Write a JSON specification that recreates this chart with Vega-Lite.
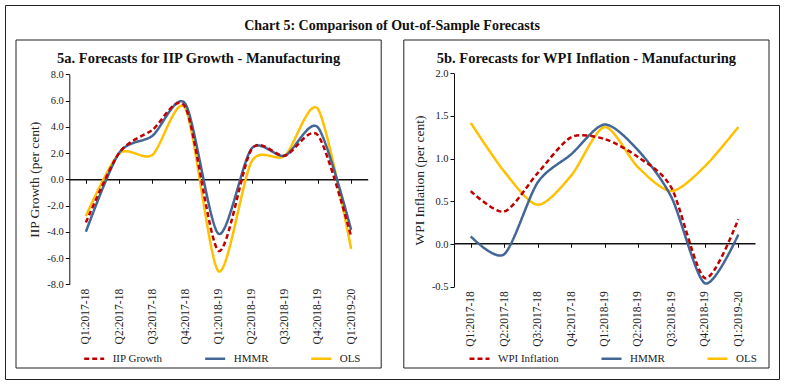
{
  "$schema": "https://vega.github.io/schema/vega-lite/v6.json",
  "width": 774,
  "height": 374,
  "autosize": {"type": "none"},
  "padding": {"left": 5, "top": 5, "right": 7, "bottom": 6},
  "background": "white",
  "title": {
    "text": "Chart 5: Comparison of Out-of-Sample Forecasts",
    "font": "Liberation Serif",
    "fontSize": 14,
    "fontWeight": "bold",
    "color": "#111111",
    "anchor": "middle",
    "baseline": "alphabetic",
    "offset": -39
  },
  "config": {
    "view": {"stroke": "#222222", "strokeWidth": 1},
    "font": "Liberation Serif",
    "axis": {
      "labelFont": "Liberation Serif",
      "titleFont": "Liberation Serif",
      "labelColor": "#222222",
      "titleColor": "#222222",
      "domainColor": "#111111",
      "tickColor": "#111111",
      "grid": false,
      "labelOverlap": false,
      "labelFlush": false
    },
    "legend": {"labelFont": "Liberation Serif", "labelColor": "#222222"}
  },
  "resolve": {
    "scale": {"x": "independent", "y": "independent", "color": "independent", "strokeDash": "independent"},
    "axis": {"x": "independent", "y": "independent"},
    "legend": {"color": "independent", "strokeDash": "independent"}
  },
  "layer": [
    {
      "data": {"values": [
        {"panel": "5a", "title": "5a. Forecasts for IIP Growth - Manufacturing"},
        {"panel": "5b", "title": "5b. Forecasts for WPI Inflation - Manufacturing"}
      ]},
      "encoding": {
        "x": {"field": "panel", "type": "nominal", "axis": null,
              "scale": {"range": [11, 764], "paddingInner": 0.0583, "paddingOuter": 0}}
      },
      "layer": [
        {
          "mark": {"type": "rect", "fill": "transparent", "stroke": "#222222", "strokeWidth": 1},
          "encoding": {
            "y": {"datum": "frame", "type": "nominal", "axis": null,
                  "scale": {"range": [35, 363], "paddingInner": 0, "paddingOuter": 0}}
          }
        },
        {
          "mark": {"type": "text", "baseline": "alphabetic", "dy": 23, "fontSize": 14.5, "fontWeight": "bold", "font": "Liberation Serif", "color": "#111111"},
          "encoding": {
            "text": {"field": "title"},
            "y": {"datum": "frame", "type": "nominal", "bandPosition": 0, "axis": null}
          }
        }
      ]
    },
    {
      "data": {"values": [
        {"quarter": "Q1:2017-18", "series": "OLS", "value": -2.8},
        {"quarter": "Q2:2017-18", "series": "OLS", "value": 1.95},
        {"quarter": "Q3:2017-18", "series": "OLS", "value": 1.85},
        {"quarter": "Q4:2017-18", "series": "OLS", "value": 5.4},
        {"quarter": "Q1:2018-19", "series": "OLS", "value": -7.0},
        {"quarter": "Q2:2018-19", "series": "OLS", "value": 1.35},
        {"quarter": "Q3:2018-19", "series": "OLS", "value": 1.8},
        {"quarter": "Q4:2018-19", "series": "OLS", "value": 5.35},
        {"quarter": "Q1:2019-20", "series": "OLS", "value": -5.3},
        {"quarter": "Q1:2017-18", "series": "HMMR", "value": -4.0},
        {"quarter": "Q2:2017-18", "series": "HMMR", "value": 2.0},
        {"quarter": "Q3:2017-18", "series": "HMMR", "value": 3.3},
        {"quarter": "Q4:2017-18", "series": "HMMR", "value": 5.75},
        {"quarter": "Q1:2018-19", "series": "HMMR", "value": -4.15},
        {"quarter": "Q2:2018-19", "series": "HMMR", "value": 2.35},
        {"quarter": "Q3:2018-19", "series": "HMMR", "value": 1.8},
        {"quarter": "Q4:2018-19", "series": "HMMR", "value": 3.95},
        {"quarter": "Q1:2019-20", "series": "HMMR", "value": -3.85},
        {"quarter": "Q1:2017-18", "series": "IIP Growth", "value": -3.3},
        {"quarter": "Q2:2017-18", "series": "IIP Growth", "value": 2.0},
        {"quarter": "Q3:2017-18", "series": "IIP Growth", "value": 3.75},
        {"quarter": "Q4:2017-18", "series": "IIP Growth", "value": 5.5},
        {"quarter": "Q1:2018-19", "series": "IIP Growth", "value": -5.45},
        {"quarter": "Q2:2018-19", "series": "IIP Growth", "value": 2.3},
        {"quarter": "Q3:2018-19", "series": "IIP Growth", "value": 1.8},
        {"quarter": "Q4:2018-19", "series": "IIP Growth", "value": 3.35},
        {"quarter": "Q1:2019-20", "series": "IIP Growth", "value": -4.35}
      ]},
      "mark": {"type": "line", "interpolate": "cardinal", "tension": 0.2, "strokeWidth": 2.5},
      "encoding": {
        "x": {"field": "quarter", "type": "ordinal",
              "scale": {"domain": ["Q1:2017-18","Q2:2017-18","Q3:2017-18","Q4:2017-18","Q1:2018-19","Q2:2018-19","Q3:2018-19","Q4:2018-19","Q1:2019-20"],
                        "range": [64.3, 362.7], "paddingInner": 0, "paddingOuter": 0},
              "axis": {"orient": "bottom", "offset": -199.7, "domain": true, "ticks": true, "bandPosition": 0, "tickSize": 4,
                       "domainWidth": 1.5, "labelAngle": -90, "labelPadding": 105, "labelFontSize": 11.5, "title": null, "labelOverlap": false}},
        "y": {"field": "value", "type": "quantitative",
              "scale": {"domain": [-8, 8], "range": [279.3, 69.3], "nice": false, "zero": false},
              "axis": {"orient": "left", "offset": -64.3, "values": [-8, -6, -4, -2, 0, 2, 4, 6, 8],
                       "labelExpr": "replace(format(datum.value, '.1f'), '\u2212', '-')",
                       "tickSize": 4, "labelPadding": 2, "labelFontSize": 10.5, "labelOverlap": false,
                       "labelBound": false, "labelFlush": false,
                       "title": "IIP Growth (per cent)", "titleFontSize": 13.5, "titleFontWeight": "normal", "titlePadding": 5}},
        "color": {"field": "series", "type": "nominal",
                  "scale": {"domain": ["IIP Growth", "HMMR", "OLS"], "range": ["#C00000", "#426795", "#FFC000"]},
                  "legend": {"orient": "none", "legendX": 77.7, "legendY": 342, "direction": "horizontal", "title": null,
                             "symbolType": "stroke", "symbolSize": 400, "symbolStrokeWidth": 2.5,
                             "labelFontSize": 11, "columnPadding": 37, "labelOffset": 7, "padding": 0}},
        "strokeDash": {"field": "series", "type": "nominal",
                       "scale": {"domain": ["IIP Growth", "HMMR", "OLS"], "range": [[5, 3], [1, 0], [1, 0]]},
                       "legend": {"orient": "none", "legendX": 77.7, "legendY": 342, "direction": "horizontal", "title": null,
                                  "symbolType": "stroke", "symbolSize": 400, "symbolStrokeWidth": 2.5,
                                  "labelFontSize": 11, "columnPadding": 37, "labelOffset": 7, "padding": 0}}
      }
    },
    {
      "data": {"values": [
        {"quarter": "Q1:2017-18", "series": "OLS", "value": 1.42},
        {"quarter": "Q2:2017-18", "series": "OLS", "value": 0.85},
        {"quarter": "Q3:2017-18", "series": "OLS", "value": 0.46},
        {"quarter": "Q4:2017-18", "series": "OLS", "value": 0.8},
        {"quarter": "Q1:2018-19", "series": "OLS", "value": 1.37},
        {"quarter": "Q2:2018-19", "series": "OLS", "value": 0.9},
        {"quarter": "Q3:2018-19", "series": "OLS", "value": 0.62},
        {"quarter": "Q4:2018-19", "series": "OLS", "value": 0.91},
        {"quarter": "Q1:2019-20", "series": "OLS", "value": 1.37},
        {"quarter": "Q1:2017-18", "series": "HMMR", "value": 0.09},
        {"quarter": "Q2:2017-18", "series": "HMMR", "value": -0.12},
        {"quarter": "Q3:2017-18", "series": "HMMR", "value": 0.72},
        {"quarter": "Q4:2017-18", "series": "HMMR", "value": 1.05},
        {"quarter": "Q1:2018-19", "series": "HMMR", "value": 1.4},
        {"quarter": "Q2:2018-19", "series": "HMMR", "value": 1.1},
        {"quarter": "Q3:2018-19", "series": "HMMR", "value": 0.55},
        {"quarter": "Q4:2018-19", "series": "HMMR", "value": -0.46},
        {"quarter": "Q1:2019-20", "series": "HMMR", "value": 0.11},
        {"quarter": "Q1:2017-18", "series": "WPI Inflation", "value": 0.62},
        {"quarter": "Q2:2017-18", "series": "WPI Inflation", "value": 0.38},
        {"quarter": "Q3:2017-18", "series": "WPI Inflation", "value": 0.83},
        {"quarter": "Q4:2017-18", "series": "WPI Inflation", "value": 1.25},
        {"quarter": "Q1:2018-19", "series": "WPI Inflation", "value": 1.23},
        {"quarter": "Q2:2018-19", "series": "WPI Inflation", "value": 1.02},
        {"quarter": "Q3:2018-19", "series": "WPI Inflation", "value": 0.66},
        {"quarter": "Q4:2018-19", "series": "WPI Inflation", "value": -0.4},
        {"quarter": "Q1:2019-20", "series": "WPI Inflation", "value": 0.29}
      ]},
      "mark": {"type": "line", "interpolate": "cardinal", "tension": 0.2, "strokeWidth": 2.5},
      "encoding": {
        "x": {"field": "quarter", "type": "ordinal",
              "scale": {"domain": ["Q1:2017-18","Q2:2017-18","Q3:2017-18","Q4:2017-18","Q1:2018-19","Q2:2018-19","Q3:2018-19","Q4:2018-19","Q1:2019-20"],
                        "range": [449, 750], "paddingInner": 0, "paddingOuter": 0},
              "axis": {"orient": "bottom", "offset": -135.7, "domain": true, "ticks": true, "bandPosition": 0, "tickSize": 4,
                       "domainWidth": 1.5, "labelAngle": -90, "labelPadding": 43.4, "labelFontSize": 11.5, "title": null, "labelOverlap": false}},
        "y": {"field": "value", "type": "quantitative",
              "scale": {"domain": [-0.5, 2], "range": [281.7, 68.3], "nice": false, "zero": false},
              "axis": {"orient": "left", "offset": -449, "values": [-0.5, 0, 0.5, 1, 1.5, 2],
                       "labelExpr": "replace(format(datum.value, '.1f'), '\u2212', '-')",
                       "tickSize": 4, "labelPadding": 2, "labelFontSize": 10.5, "labelOverlap": false,
                       "labelBound": false, "labelFlush": false,
                       "title": "WPI Inflation (per cent)", "titleFontSize": 13.5, "titleFontWeight": "normal", "titlePadding": 5}},
        "color": {"field": "series", "type": "nominal",
                  "scale": {"domain": ["WPI Inflation", "HMMR", "OLS"], "range": ["#C00000", "#426795", "#FFC000"]},
                  "legend": {"orient": "none", "legendX": 463, "legendY": 342, "direction": "horizontal", "title": null,
                             "symbolType": "stroke", "symbolSize": 400, "symbolStrokeWidth": 2.5,
                             "labelFontSize": 11, "columnPadding": 37, "labelOffset": 7, "padding": 0}},
        "strokeDash": {"field": "series", "type": "nominal",
                       "scale": {"domain": ["WPI Inflation", "HMMR", "OLS"], "range": [[5, 3], [1, 0], [1, 0]]},
                       "legend": {"orient": "none", "legendX": 463, "legendY": 342, "direction": "horizontal", "title": null,
                                  "symbolType": "stroke", "symbolSize": 400, "symbolStrokeWidth": 2.5,
                                  "labelFontSize": 11, "columnPadding": 37, "labelOffset": 7, "padding": 0}}
      }
    }
  ]
}
